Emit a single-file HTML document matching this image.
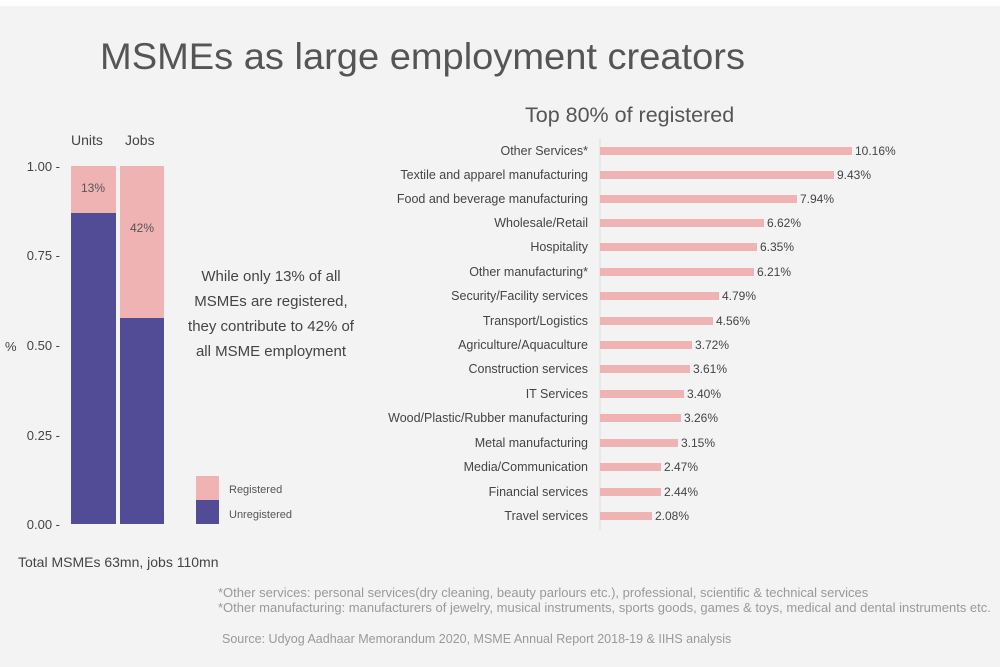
<!DOCTYPE html>
<html><head><style>
body{margin:0;background:#fff;}
svg{display:block;font-family:"Liberation Sans",sans-serif;}
</style></head><body>
<svg width="1000" height="667" viewBox="0 0 1000 667">
<rect x="0" y="6" width="1000" height="661" fill="#f3f3f3"/>
<text x="100" y="69" font-size="37" fill="#555" textLength="645" lengthAdjust="spacingAndGlyphs">MSMEs as large employment creators</text>
<text x="71" y="145" font-size="14" fill="#444">Units</text>
<text x="125" y="145" font-size="14" fill="#444">Jobs</text>
<g font-size="13" fill="#444" text-anchor="end">
<text x="60" y="171">1.00 -</text><text x="60" y="260">0.75 -</text><text x="60" y="350">0.50 -</text><text x="60" y="440">0.25 -</text><text x="60" y="529">0.00 -</text>
</g>
<text x="5" y="351" font-size="13" fill="#444">%</text>
<rect x="71" y="166" width="45" height="47" fill="#efb3b3"/>
<rect x="71" y="213" width="45" height="311" fill="#524c96"/>
<rect x="120" y="166" width="44" height="152" fill="#efb3b3"/>
<rect x="120" y="318" width="44" height="206" fill="#524c96"/>
<text x="93" y="192" font-size="12" fill="#555" text-anchor="middle">13%</text>
<text x="142" y="232" font-size="12" fill="#555" text-anchor="middle">42%</text>
<g font-size="15" fill="#444" text-anchor="middle">
<text x="271" y="281">While only 13% of all</text>
<text x="271" y="306">MSMEs are registered,</text>
<text x="271" y="331">they contribute to 42% of</text>
<text x="271" y="356">all MSME employment</text>
</g>
<rect x="196" y="476" width="23" height="24" fill="#efb3b3"/>
<rect x="196" y="500" width="23" height="24" fill="#524c96"/>
<text x="229" y="493" font-size="11" fill="#555">Registered</text>
<text x="229" y="518" font-size="11" fill="#555">Unregistered</text>
<text x="18" y="567" font-size="14" fill="#444">Total MSMEs 63mn, jobs 110mn</text>
<text x="525" y="122" font-size="21.5" fill="#555">Top 80% of registered</text>
<line x1="600" y1="138" x2="600" y2="530" stroke="#ddd" stroke-width="1"/>
<g font-size="12" fill="#444">
<g text-anchor="end" font-size="12.5">
<text x="588" y="155">Other Services*</text>
<text x="588" y="179">Textile and apparel manufacturing</text>
<text x="588" y="203">Food and beverage manufacturing</text>
<text x="588" y="227">Wholesale/Retail</text>
<text x="588" y="251">Hospitality</text>
<text x="588" y="276">Other manufacturing*</text>
<text x="588" y="300">Security/Facility services</text>
<text x="588" y="325">Transport/Logistics</text>
<text x="588" y="349">Agriculture/Aquaculture</text>
<text x="588" y="373">Construction services</text>
<text x="588" y="398">IT Services</text>
<text x="588" y="422">Wood/Plastic/Rubber manufacturing</text>
<text x="588" y="447">Metal manufacturing</text>
<text x="588" y="471">Media/Communication</text>
<text x="588" y="496">Financial services</text>
<text x="588" y="520">Travel services</text>
</g>
<g fill="#efb3b3">
<rect x="600" y="147" width="252" height="8"/>
<rect x="600" y="171" width="234" height="8"/>
<rect x="600" y="195" width="197" height="8"/>
<rect x="600" y="219" width="164" height="8"/>
<rect x="600" y="243" width="157" height="8"/>
<rect x="600" y="268" width="154" height="8"/>
<rect x="600" y="292" width="119" height="8"/>
<rect x="600" y="317" width="113" height="8"/>
<rect x="600" y="341" width="92" height="8"/>
<rect x="600" y="365" width="90" height="8"/>
<rect x="600" y="390" width="84" height="8"/>
<rect x="600" y="414" width="81" height="8"/>
<rect x="600" y="439" width="78" height="8"/>
<rect x="600" y="463" width="61" height="8"/>
<rect x="600" y="488" width="61" height="8"/>
<rect x="600" y="512" width="52" height="8"/>
</g>
<text x="855" y="155">10.16%</text>
<text x="837" y="179">9.43%</text>
<text x="800" y="203">7.94%</text>
<text x="767" y="227">6.62%</text>
<text x="760" y="251">6.35%</text>
<text x="757" y="276">6.21%</text>
<text x="722" y="300">4.79%</text>
<text x="716" y="325">4.56%</text>
<text x="695" y="349">3.72%</text>
<text x="693" y="373">3.61%</text>
<text x="687" y="398">3.40%</text>
<text x="684" y="422">3.26%</text>
<text x="681" y="447">3.15%</text>
<text x="664" y="471">2.47%</text>
<text x="664" y="496">2.44%</text>
<text x="655" y="520">2.08%</text>
</g>
<g font-size="13" fill="#999">
<text x="218" y="597">*Other services: personal services(dry cleaning, beauty parlours etc.), professional, scientific &amp; technical services</text>
<text x="218" y="612">*Other manufacturing: manufacturers of jewelry, musical instruments, sports goods, games &amp; toys, medical and dental instruments etc.</text>
<text x="222" y="643" font-size="12.5">Source: Udyog Aadhaar Memorandum 2020, MSME Annual Report 2018-19 &amp; IIHS analysis</text>
</g>
</svg>
</body></html>
